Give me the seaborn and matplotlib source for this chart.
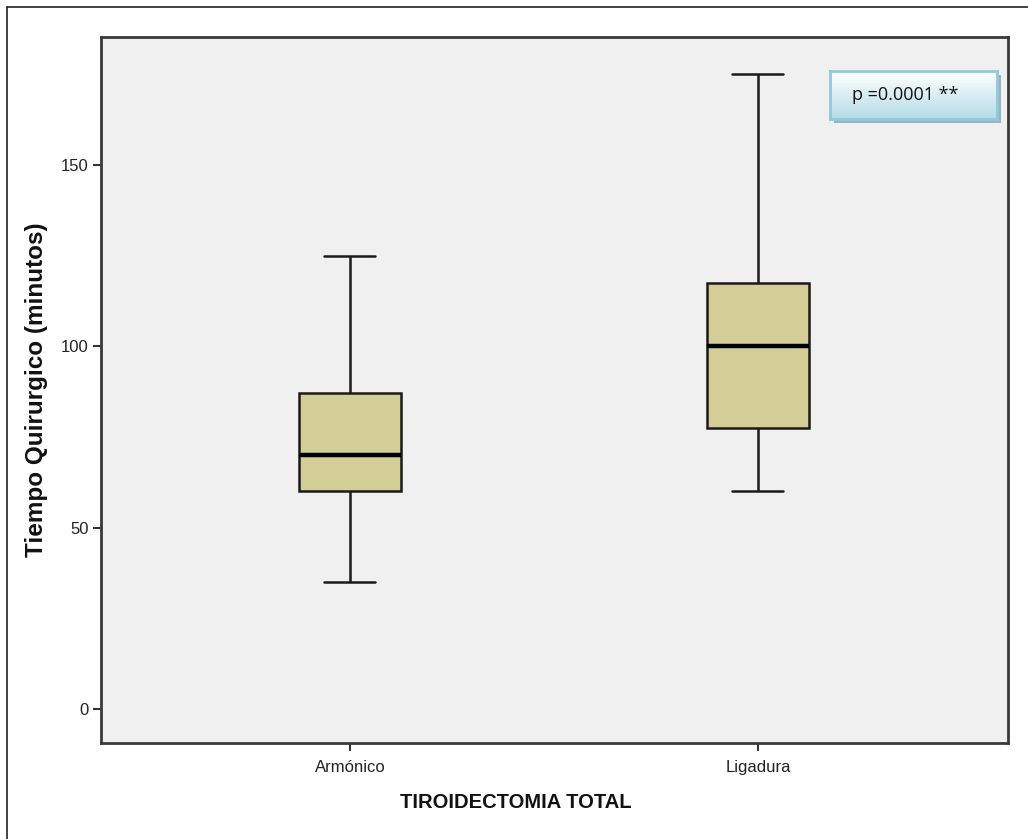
import numpy as np
import pandas as pd
import matplotlib
matplotlib.use("Agg")
import matplotlib.pyplot as plt
import seaborn as sns
from matplotlib.lines import Line2D

# Data: five-number summaries
categories = ["Armónico", "Ligadura"]
armonico_vals = [35, 60, 70, 87, 125]
ligadura_vals = [60, 77.5, 100, 117.5, 175]
y_ticks = [0, 50, 100, 150]
x_label = "TIROIDECTOMIA TOTAL"
y_label = "Tiempo Quirurgico (minutos)"
p_text = "p =0.0001 **"

df = pd.DataFrame({
    "grupo": [categories[0]] * len(armonico_vals) + [categories[1]] * len(ligadura_vals),
    "tiempo": armonico_vals + ligadura_vals,
})

sns.set_theme(style="white")
plt.rcParams["font.family"] = ["Liberation Sans", "DejaVu Sans"]

W, H = 1028, 839
fig = plt.figure(figsize=(10.28, 8.39), dpi=100)
ax = fig.add_axes([101 / W, 1 - 743 / H, (1008 - 101) / W, (743 - 37) / H])
ax.set_facecolor("#F0F0F0")

sns.boxplot(
    data=df, x="grupo", y="tiempo", order=categories, ax=ax,
    whis=np.inf, width=0.25, color="#D3CE97", saturation=1,
    linecolor="#1A1A1A", linewidth=1.8,
    medianprops=dict(color="black", linewidth=3.2),
)

ax.set_xlim(-0.61, 1.613)
ax.set_ylim(-9.4, 185.3)
ax.set_yticks(y_ticks)
ax.set_yticklabels([str(t) for t in y_ticks])
ax.tick_params(axis="both", which="both", direction="out", length=6, width=1.5,
               color="#333333", labelsize=12, left=True, bottom=True,
               labelcolor="#222222")
ax.tick_params(axis="x", pad=6)
ax.tick_params(axis="y", pad=3)
for s in ax.spines.values():
    s.set_visible(True)
    s.set_color("#3A3A3A")
    s.set_linewidth(2)

ax.set_xlabel("")
ax.set_ylabel(y_label, fontsize=17.5, fontweight="bold", labelpad=9, color="#111111")
fig.text(516 / W, 1 - 803 / H, x_label, fontsize=14.5, fontweight="bold",
         ha="center", va="center", color="#111111")

# p-value annotation box (gradient with shadow)
bx0, bx1, by0, by1 = 830, 997, 71, 119
shadow = fig.add_axes([(bx0 + 4) / W, 1 - (by1 + 4) / H, (bx1 - bx0) / W, (by1 - by0) / H])
shadow.set_facecolor("#9DB2C0")
shadow.set_xticks([]); shadow.set_yticks([])
for s in shadow.spines.values():
    s.set_visible(False)
box = fig.add_axes([bx0 / W, 1 - by1 / H, (bx1 - bx0) / W, (by1 - by0) / H])
grad = np.linspace(0, 1, 100).reshape(-1, 1)
cmap = matplotlib.colors.LinearSegmentedColormap.from_list("g", ["#FFFFFF", "#B5DCE8"])
box.imshow(grad, aspect="auto", cmap=cmap, extent=[0, 1, 0, 1], origin="upper")
box.set_xlim(0, 1); box.set_ylim(0, 1)
box.set_xticks([]); box.set_yticks([])
for s in box.spines.values():
    s.set_color("#8ECADB")
    s.set_linewidth(2)
box.text((852 - bx0) / (bx1 - bx0), 0.5, p_text, fontsize=13, va="center", ha="left",
         family=["Open Sans", "DejaVu Sans"], color="#111111")

# outer frame (left and top edges)
fig.add_artist(Line2D([7 / W, 7 / W], [0, 1 - 7 / H], color="#222222", lw=1.2))
fig.add_artist(Line2D([7 / W, 1], [1 - 7 / H, 1 - 7 / H], color="#222222", lw=1.2))

fig.savefig("out.png", dpi=100, facecolor="white")
